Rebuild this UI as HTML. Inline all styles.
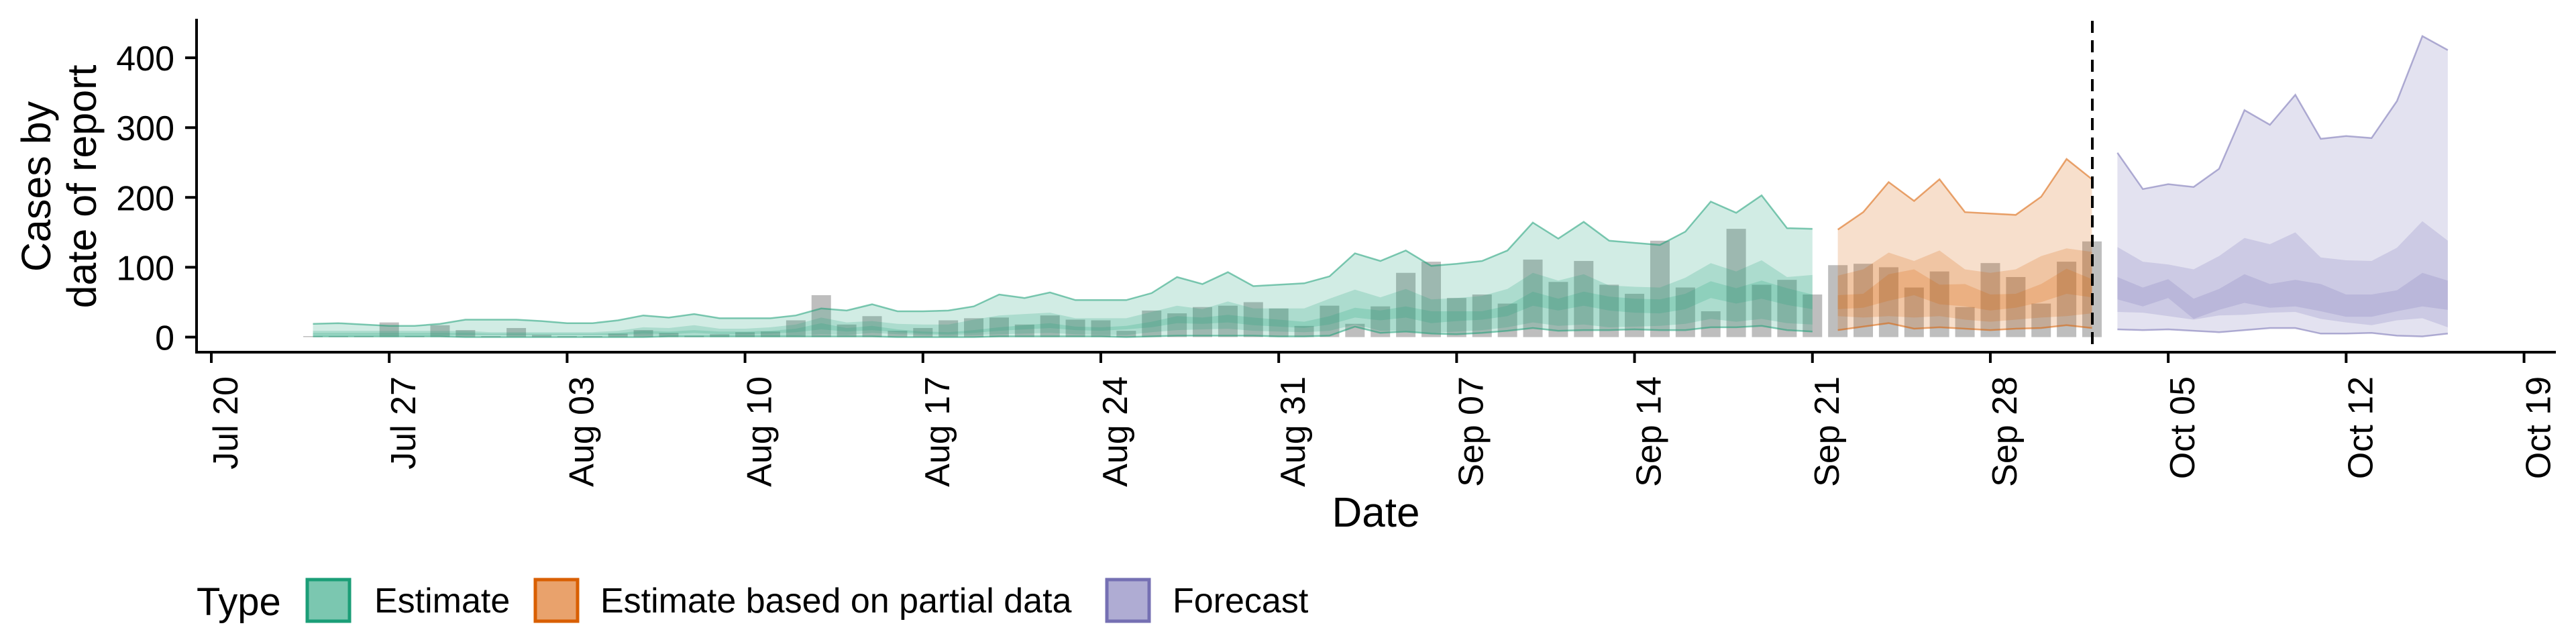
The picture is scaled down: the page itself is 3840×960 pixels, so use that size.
<!DOCTYPE html>
<html><head><meta charset="utf-8"><style>
html,body{margin:0;padding:0;background:#fff;}
svg{display:block;font-family:"Liberation Sans",sans-serif;}
</style></head><body>
<svg id="chart" width="3840" height="960" viewBox="0 0 3840 960" xmlns="http://www.w3.org/2000/svg">
  <g id="bars"></g>
  <g id="bands"></g>
  <line x1="3119" y1="31" x2="3119" y2="525" stroke="#000" stroke-width="4" stroke-dasharray="18,11"/>
  <g id="axes"></g>
  <text x="2051" y="785" font-size="62" text-anchor="middle">Date</text>
  <text transform="translate(75,278) rotate(-90)" font-size="61" text-anchor="middle">Cases by</text>
  <text transform="translate(143,278) rotate(-90)" font-size="61" text-anchor="middle">date of report</text>
  <g>
    <text x="293" y="917" font-size="58">Type</text>
    <rect x="458" y="864" width="63" height="62" fill="#1b9e77" fill-opacity="0.58" stroke="#1b9e77" stroke-width="5"/>
    <text x="558" y="913" font-size="52">Estimate</text>
    <rect x="798" y="864" width="63" height="62" fill="#d95f02" fill-opacity="0.58" stroke="#d95f02" stroke-width="5"/>
    <text x="895" y="913" font-size="52">Estimate based on partial data</text>
    <rect x="1650" y="864" width="63" height="62" fill="#7570b3" fill-opacity="0.58" stroke="#7570b3" stroke-width="5"/>
    <text x="1748" y="913" font-size="52">Forecast</text>
  </g>
</svg>
<script>
// days since Jul 20
const estStart = 4;
const estHi90 = [19,20,18,16,16,19,25,25,25,23,20,20,24,31,28,33,27,27,27,31,41,38,47,37,37,38,44,61,56,64,53,53,53,63,86,76,93,73,75,77,87,120,109,124,102,105,109,124,164,141,165,138,135,132,151,194,178,203,156,155];
const estHi50 = [9,9,9,9,9,9,9,7,7,7,7,7,9,14,13,17,12,12,14,18,28,21,23,19,18,18,25,31,33,35,27,27,27,36,45,40,51,41,41,41,55,68,57,69,54,56,59,69,92,81,90,74,72,71,85,106,94,110,86,89];
const estHi20 = [6,6,6,6,6,6,6,5,5,5,5,5,6,9,8,10,8,8,9,12,20,13,16,11,8,7,10,14,17,20,15,14,16,22,30,28,32,28,25,22,30,42,38,44,37,37,37,45,65,55,65,58,55,54,62,80,70,81,70,61];
const estLo20 = [3,3,3,3,3,3,3,3,3,3,3,3,3,5,4,6,4,4,5,7,11,8,10,7,5,4,6,9,11,13,10,9,11,14,20,19,21,17,15,13,18,28,24,28,20,23,25,30,45,38,45,38,35,34,40,56,48,55,46,40];
const estLo50 = [2,2,2,2,2,2,2,2,2,2,2,2,2,2,2,2,2,2,2,2,4,3,6,4,3,2,3,4,5,6,4,3,3,7,10,11,12,9,8,7,9,18,9,9,6,8,10,14,21,16,18,14,15,16,19,26,22,26,20,18];
const estLo90 = [1,1,1,1,1,1,0,0,0,0,0,0,0,0,1,1,1,1,1,1,1,1,1,0,0,0,0,1,1,1,1,1,0,1,2,2,2,2,1,1,2,15,6,8,5,4,6,9,13,9,10,10,11,10,10,14,14,16,10,8];

const partStart = 64;
const partHi90 = [154,179,222,195,226,179,177,175,201,255,226];
const partHi50 = [88,97,121,109,124,97,92,97,116,127,122];
const partHi20 = [60,62,90,97,75,76,61,62,76,98,83];
const partLo20 = [40,42,52,60,47,44,38,42,50,62,57];
const partLo50 = [30,28,30,28,30,25,22,25,28,30,34];
const partLo90 = [10,15,20,12,14,12,10,12,13,17,13];

const fcStart = 75;
const fcHi90 = [264,212,219,215,241,325,304,347,284,288,285,338,431,411];
const fcHi50 = [129,108,104,97,116,142,133,150,114,110,109,128,166,138];
const fcHi20 = [86,71,83,55,69,90,76,82,76,61,61,67,92,81];
const fcLo20 = [54,44,56,26,39,49,42,44,37,29,29,37,44,39];
const fcLo50 = [36,35,30,25,31,32,35,36,26,21,17,24,27,14];
const fcLo90 = [11,10,11,9,7,10,13,13,5,5,6,2,1,5];

const barStart = 4;
const barValues = [0,0,0,21,0,17,10,0,13,3,0,0,5,10,6,2,4,7,8,24,60,18,30,9,13,24,27,28,18,31,25,24,9,38,34,43,45,50,41,16,45,19,44,92,108,56,61,48,111,79,109,75,62,138,71,37,155,75,82,61,103,105,100,71,94,43,106,86,48,108,137];

const yTicks = [0,100,200,300,400];
const xTickLabels = ["Jul 20","Jul 27","Aug 03","Aug 10","Aug 17","Aug 24","Aug 31","Sep 07","Sep 14","Sep 21","Sep 28","Oct 05","Oct 12","Oct 19"];

const NS = "http://www.w3.org/2000/svg";
function xS(d){ return 315 + 37.885*d; }
function yS(v){ return 502.5 - 1.041*v; }
function mk(tag, attrs, parent){
  const e = document.createElementNS(NS, tag);
  for (const k in attrs) e.setAttribute(k, attrs[k]);
  parent.appendChild(e); return e;
}

const barsG = document.getElementById('bars');
barValues.forEach((v,i)=>{
  const d = barStart + i;
  const h = Math.max(1.5, 1.041*v);
  const r = mk('rect', {x: xS(d)-14.5, y: yS(0)-h, width: 29, height: h, fill: '#bebebe'}, barsG);
  
  
});

const bandsG = document.getElementById('bands');
function band(start, hi, lo, color, name){
  let pts = hi.map((v,i)=> xS(start+i).toFixed(1)+','+yS(v).toFixed(1));
  for (let i=lo.length-1;i>=0;i--) pts.push(xS(start+i).toFixed(1)+','+yS(lo[i]).toFixed(1));
  const p = mk('polygon', {points: pts.join(' '), fill: color, 'fill-opacity': 0.2}, bandsG);
  
  
}
function edge(start, arr, color, name){
  const pts = arr.map((v,i)=> xS(start+i).toFixed(1)+','+yS(v).toFixed(1));
  const l = mk('polyline', {points: pts.join(' '), fill: 'none', stroke: color, 'stroke-opacity': 0.55, 'stroke-width': 2.5}, bandsG);
  
  
}
function series(start, hi90, hi50, hi20, lo20, lo50, lo90, color, key){
  band(start, hi90, lo90, color, key+'-band-90');
  band(start, hi50, lo50, color, key+'-band-50');
  band(start, hi20, lo20, color, key+'-band-20');
  edge(start, hi90, color, key+'-upper-edge');
  edge(start, lo90, color, key+'-lower-edge');
}
series(estStart, estHi90, estHi50, estHi20, estLo20, estLo50, estLo90, '#1b9e77', 'estimate');
series(partStart, partHi90, partHi50, partHi20, partLo20, partLo50, partLo90, '#d95f02', 'partial');
series(fcStart, fcHi90, fcHi50, fcHi20, fcLo20, fcLo50, fcLo90, '#7570b3', 'forecast');

const ax = document.getElementById('axes');
const ysp = mk('line', {x1:293, y1:28, x2:293, y2:526.5, stroke:'#000', 'stroke-width':4}, ax);


const xsp = mk('line', {x1:291, y1:525, x2:3810, y2:525, stroke:'#000', 'stroke-width':4}, ax);


yTicks.forEach(v=>{
  const t = mk('line', {x1:276, y1:yS(v), x2:293, y2:yS(v), stroke:'#000', 'stroke-width':4}, ax);
  
  
  const tx = mk('text', {x:260, y:yS(v)+19, 'font-size':52, 'text-anchor':'end'}, ax);
  tx.textContent = String(v);
  
  
});
xTickLabels.forEach((lab,i)=>{
  const x = xS(i*7);
  const t = mk('line', {x1:x, y1:525, x2:x, y2:541, stroke:'#000', 'stroke-width':4}, ax);
  
  
  const tx = mk('text', {transform:'translate('+(x+39)+',561) rotate(-90)', 'font-size':52, 'text-anchor':'end'}, ax);
  tx.textContent = lab;
  
  
});
</script>
</body></html>
